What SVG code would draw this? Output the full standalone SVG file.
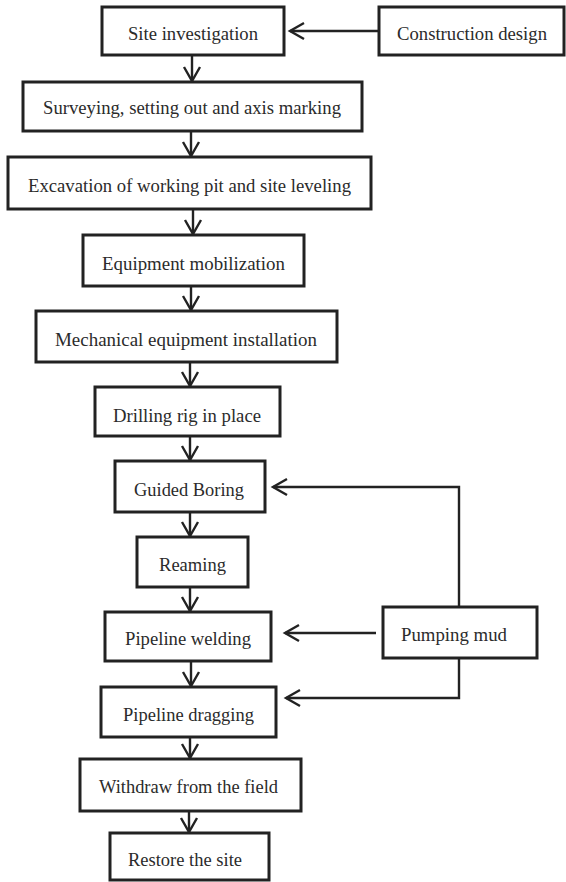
<svg xmlns="http://www.w3.org/2000/svg" width="566" height="882" viewBox="0 0 566 882">
<defs>
<style>
.box{fill:#fff;stroke:#222;stroke-width:3}
.lbl{font-family:"Liberation Serif","Times New Roman",serif;font-size:18px;fill:#2b2b2b;text-anchor:middle}
.con{fill:none;stroke:#222;stroke-width:2.4}
</style>
<marker id="ah" markerUnits="userSpaceOnUse" viewBox="-16 -10 20 20" markerWidth="20" markerHeight="20" refX="0" refY="0" orient="auto">
<path d="M-14,-8 L0,0 L-14,8" fill="none" stroke="#222" stroke-width="2.4"/>
</marker>
</defs>
<rect width="566" height="882" fill="#fff"/>
<g id="connectors">
<line class="con" x1="192" y1="55" x2="192" y2="81" marker-end="url(#ah)"/>
<line class="con" x1="191" y1="131" x2="191" y2="156" marker-end="url(#ah)"/>
<line class="con" x1="193" y1="209" x2="193" y2="234" marker-end="url(#ah)"/>
<line class="con" x1="191" y1="286" x2="191" y2="310" marker-end="url(#ah)"/>
<line class="con" x1="190" y1="362" x2="190" y2="386" marker-end="url(#ah)"/>
<line class="con" x1="190" y1="436" x2="190" y2="460" marker-end="url(#ah)"/>
<line class="con" x1="190" y1="512" x2="190" y2="536" marker-end="url(#ah)"/>
<line class="con" x1="190" y1="587" x2="190" y2="611" marker-end="url(#ah)"/>
<line class="con" x1="191" y1="661" x2="191" y2="686" marker-end="url(#ah)"/>
<line class="con" x1="190" y1="737" x2="190" y2="758" marker-end="url(#ah)"/>
<line class="con" x1="189" y1="811" x2="189" y2="832" marker-end="url(#ah)"/>
<path class="con" d="M379,31 L290,31" marker-end="url(#ah)"/>
<path class="con" d="M459,607 L459,487 L273,487" marker-end="url(#ah)"/>
<path class="con" d="M376,633 L285,633" marker-end="url(#ah)"/>
<path class="con" d="M459,658 L459,698 L286,698" marker-end="url(#ah)"/>
</g>
<g id="site-investigation"><rect class="box" x="102" y="7" width="182" height="48"/><text class="lbl" x="193" y="40" textLength="130" lengthAdjust="spacingAndGlyphs">Site investigation</text></g>
<g id="construction-design"><rect class="box" x="379" y="7" width="185" height="48"/><text class="lbl" x="472" y="40" textLength="150" lengthAdjust="spacingAndGlyphs">Construction design</text></g>
<g id="surveying"><rect class="box" x="23" y="82" width="339" height="49"/><text class="lbl" x="192" y="114" textLength="298" lengthAdjust="spacingAndGlyphs">Surveying, setting out and axis marking</text></g>
<g id="excavation"><rect class="box" x="8" y="157" width="363" height="52"/><text class="lbl" x="189.5" y="192" textLength="323" lengthAdjust="spacingAndGlyphs">Excavation of working pit and site leveling</text></g>
<g id="equipment-mobilization"><rect class="box" x="83" y="235" width="221" height="51"/><text class="lbl" x="193.5" y="270" textLength="183" lengthAdjust="spacingAndGlyphs">Equipment mobilization</text></g>
<g id="mechanical-installation"><rect class="box" x="36" y="311" width="301" height="51"/><text class="lbl" x="186" y="346" textLength="262" lengthAdjust="spacingAndGlyphs">Mechanical equipment installation</text></g>
<g id="drilling-rig"><rect class="box" x="95" y="387" width="185" height="49"/><text class="lbl" x="187" y="422" textLength="148" lengthAdjust="spacingAndGlyphs">Drilling rig in place</text></g>
<g id="guided-boring"><rect class="box" x="115" y="461" width="150" height="51"/><text class="lbl" x="189" y="496" textLength="110" lengthAdjust="spacingAndGlyphs">Guided Boring</text></g>
<g id="reaming"><rect class="box" x="137" y="537" width="111" height="50"/><text class="lbl" x="192.5" y="571" textLength="67" lengthAdjust="spacingAndGlyphs">Reaming</text></g>
<g id="pipeline-welding"><rect class="box" x="105" y="612" width="166" height="49"/><text class="lbl" x="188" y="645" textLength="126" lengthAdjust="spacingAndGlyphs">Pipeline welding</text></g>
<g id="pumping-mud"><rect class="box" x="383" y="607" width="154" height="51"/><text class="lbl" x="454" y="641" textLength="106" lengthAdjust="spacingAndGlyphs">Pumping mud</text></g>
<g id="pipeline-dragging"><rect class="box" x="101" y="687" width="175" height="50"/><text class="lbl" x="188.5" y="721" textLength="131" lengthAdjust="spacingAndGlyphs">Pipeline dragging</text></g>
<g id="withdraw"><rect class="box" x="80" y="759" width="221" height="52"/><text class="lbl" x="188.5" y="793" textLength="179" lengthAdjust="spacingAndGlyphs">Withdraw from the field</text></g>
<g id="restore-site"><rect class="box" x="110" y="833" width="159" height="47"/><text class="lbl" x="185" y="866" textLength="114" lengthAdjust="spacingAndGlyphs">Restore the site</text></g>
</svg>
